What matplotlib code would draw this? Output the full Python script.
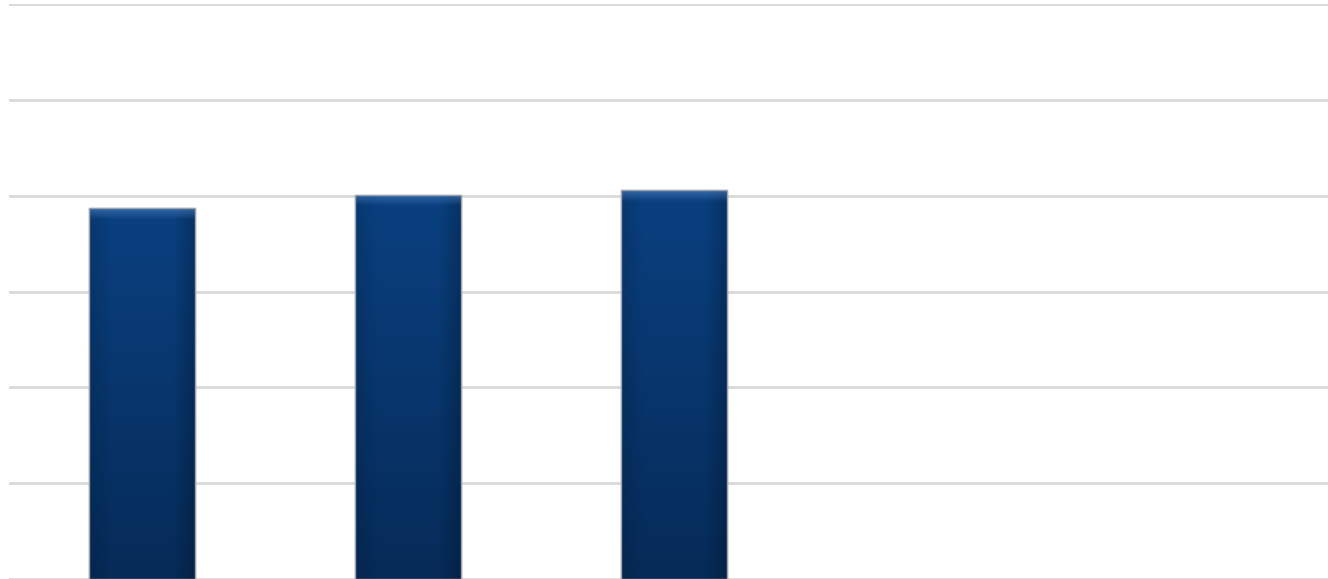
import matplotlib
matplotlib.use("Agg")
import matplotlib.pyplot as plt
import numpy as np
from matplotlib.colors import LinearSegmentedColormap

categories = ["A", "B", "C", "D", "E"]
values = [3.87, 4.01, 4.06, None, None]
y_ticks = [0, 1, 2, 3, 4, 5, 6]

fig = plt.figure(figsize=(13.28, 5.79), dpi=100)
ax = fig.add_axes([9 / 1328, 0, 1 - 9 / 1328, (579 - 4.2) / 579])

ax.set_ylim(0, 6)
ax.set_xlim(-0.5, 4.46)
ax.set_yticks(y_ticks)
ax.grid(axis="y", color="#d9d9d9", linewidth=2)
ax.set_axisbelow(True)
for s in ax.spines.values():
    s.set_visible(False)
ax.tick_params(left=False, bottom=False, labelleft=False, labelbottom=False)

xs = [i for i, v in enumerate(values) if v is not None]
vs = [v for v in values if v is not None]
bars = ax.bar(xs, vs, width=0.40, color="#073a73", edgecolor="#9aa3ae",
              linewidth=1.0, zorder=2)

cmap = LinearSegmentedColormap.from_list("g", ["#062b58", "#0a4080"])
side = LinearSegmentedColormap.from_list(
    "h2", [(0, 0, 0, 0.12), (0, 0, 0, 0.0), (0, 0, 0, 0.0), (0, 0, 0, 0.0), (0, 0, 0, 0.0), (0, 0, 0, 0.22)])
top = LinearSegmentedColormap.from_list(
    "t", [(0.35, 0.55, 0.8, 0.0), (0.35, 0.55, 0.8, 0.55)])
for b in bars:
    x0, y0 = b.get_x(), b.get_y()
    w, h = b.get_width(), b.get_height()
    grad = np.linspace(0, 1, 256).reshape(-1, 1)
    im = ax.imshow(grad, cmap=cmap, origin="lower", aspect="auto",
                   extent=(x0, x0 + w, y0, y0 + h), zorder=3)
    im.set_clip_path(b)
    hg = np.linspace(0, 1, 64).reshape(1, -1)
    im2 = ax.imshow(hg, cmap=side, origin="lower", aspect="auto",
                    extent=(x0, x0 + w, y0, y0 + h), zorder=4)
    im2.set_clip_path(b)
    tg = np.linspace(0, 1, 32).reshape(-1, 1)
    im3 = ax.imshow(tg, cmap=top, origin="lower", aspect="auto",
                    extent=(x0, x0 + w, y0 + h - 0.12, y0 + h), zorder=5)
    im3.set_clip_path(b)
    ax.add_patch(plt.Rectangle((x0, y0), w, h, fill=False, edgecolor="#9aa3ae",
                               linewidth=1.0, zorder=6))
ax.set_xlim(-0.5, 4.46)
ax.set_ylim(0, 6)

fig.savefig("out.png", dpi=100)
